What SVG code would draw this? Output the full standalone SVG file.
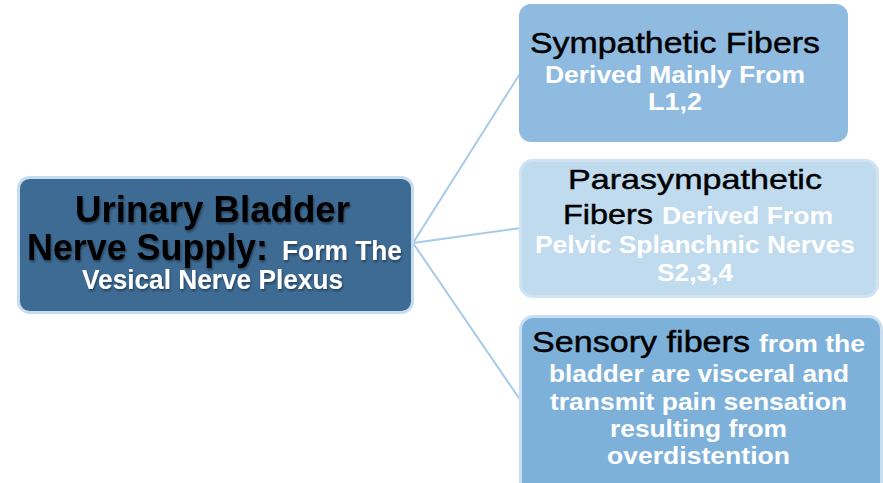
<svg xmlns="http://www.w3.org/2000/svg" width="883" height="483" viewBox="0 0 883 483">
  <defs>
    <filter id="txtShadow" x="-5%" y="-20%" width="110%" height="140%">
      <feGaussianBlur in="SourceAlpha" stdDeviation="1.2"/>
      <feOffset dx="1" dy="1.5" result="b"/>
      <feComponentTransfer><feFuncA type="linear" slope="0.4"/></feComponentTransfer>
      <feMerge><feMergeNode/><feMergeNode in="SourceGraphic"/></feMerge>
    </filter>
  </defs>
  <style>
    .hd { font-family: "Liberation Sans", Arial, sans-serif; fill: #000; }
    .hr { stroke: #000; stroke-width: 0.45; }
    .wt { font-family: "Liberation Sans", Arial, sans-serif; font-weight: bold; fill: #fff; }
    .conn { stroke: #a7cae8; stroke-width: 2; fill: none; }
  </style>
  <rect width="883" height="483" fill="#ffffff"/>

  <!-- connectors -->
  <g id="connectors">
    <line class="conn" x1="413" y1="243" x2="521" y2="72"/>
    <line class="conn" x1="413" y1="243" x2="521" y2="228"/>
    <line class="conn" x1="413" y1="243" x2="521" y2="401"/>
  </g>

  <!-- root node -->
  <g id="root">
    <rect x="18.5" y="177.5" width="394" height="135" rx="11" fill="#3e6b94" stroke="#c6ddf0" stroke-width="3"/>
    <g filter="url(#txtShadow)">
      <text class="hd" x="75" y="222" font-size="36" font-weight="bold" textLength="275" lengthAdjust="spacingAndGlyphs">Urinary Bladder</text>
      <text class="hd" x="27" y="260" font-size="36" font-weight="bold" textLength="241" lengthAdjust="spacingAndGlyphs">Nerve Supply:</text>
      <text class="wt" x="282" y="260" font-size="27" textLength="120" lengthAdjust="spacingAndGlyphs">Form The</text>
      <text class="wt" x="82" y="289" font-size="27" textLength="261" lengthAdjust="spacingAndGlyphs">Vesical Nerve Plexus</text>
    </g>
  </g>

  <!-- sympathetic -->
  <g id="sympathetic">
    <rect x="519" y="4" width="329" height="138" rx="12" fill="#8fbbe0"/>
    <text class="hd hr" x="530" y="53" font-size="29" textLength="290" lengthAdjust="spacingAndGlyphs">Sympathetic Fibers</text>
    <text class="wt" x="545" y="83" font-size="24" textLength="260" lengthAdjust="spacingAndGlyphs">Derived Mainly From</text>
    <text class="wt" x="648" y="110" font-size="24" textLength="54" lengthAdjust="spacingAndGlyphs">L1,2</text>
  </g>

  <!-- parasympathetic -->
  <g id="parasympathetic">
    <rect x="520.5" y="160.5" width="357" height="136" rx="12" fill="#c0daee" stroke="#cfe3f3" stroke-width="3"/>
    <text class="hd hr" x="568" y="189" font-size="28" textLength="254" lengthAdjust="spacingAndGlyphs">Parasympathetic</text>
    <text class="hd hr" x="563" y="224" font-size="28" textLength="90" lengthAdjust="spacingAndGlyphs">Fibers</text>
    <text class="wt" x="662" y="224" font-size="24" textLength="171" lengthAdjust="spacingAndGlyphs">Derived From</text>
    <text class="wt" x="535" y="252.5" font-size="24" textLength="320" lengthAdjust="spacingAndGlyphs">Pelvic Splanchnic Nerves</text>
    <text class="wt" x="657" y="280.5" font-size="24" textLength="76" lengthAdjust="spacingAndGlyphs">S2,3,4</text>
  </g>

  <!-- sensory -->
  <g id="sensory">
    <rect x="520.5" y="316.5" width="361" height="180" rx="13" fill="#7eb1da" stroke="#c9dff1" stroke-width="3"/>
    <text class="hd hr" x="532" y="352" font-size="29" textLength="218" lengthAdjust="spacingAndGlyphs">Sensory fibers</text>
    <text class="wt" x="759" y="352" font-size="24" textLength="106" lengthAdjust="spacingAndGlyphs">from the</text>
    <text class="wt" x="549" y="381.5" font-size="24" textLength="300" lengthAdjust="spacingAndGlyphs">bladder are visceral and</text>
    <text class="wt" x="550" y="410" font-size="24" textLength="297" lengthAdjust="spacingAndGlyphs">transmit pain sensation</text>
    <text class="wt" x="610" y="437" font-size="24" textLength="177" lengthAdjust="spacingAndGlyphs">resulting from</text>
    <text class="wt" x="607" y="464" font-size="24" textLength="183" lengthAdjust="spacingAndGlyphs">overdistention</text>
  </g>
</svg>
